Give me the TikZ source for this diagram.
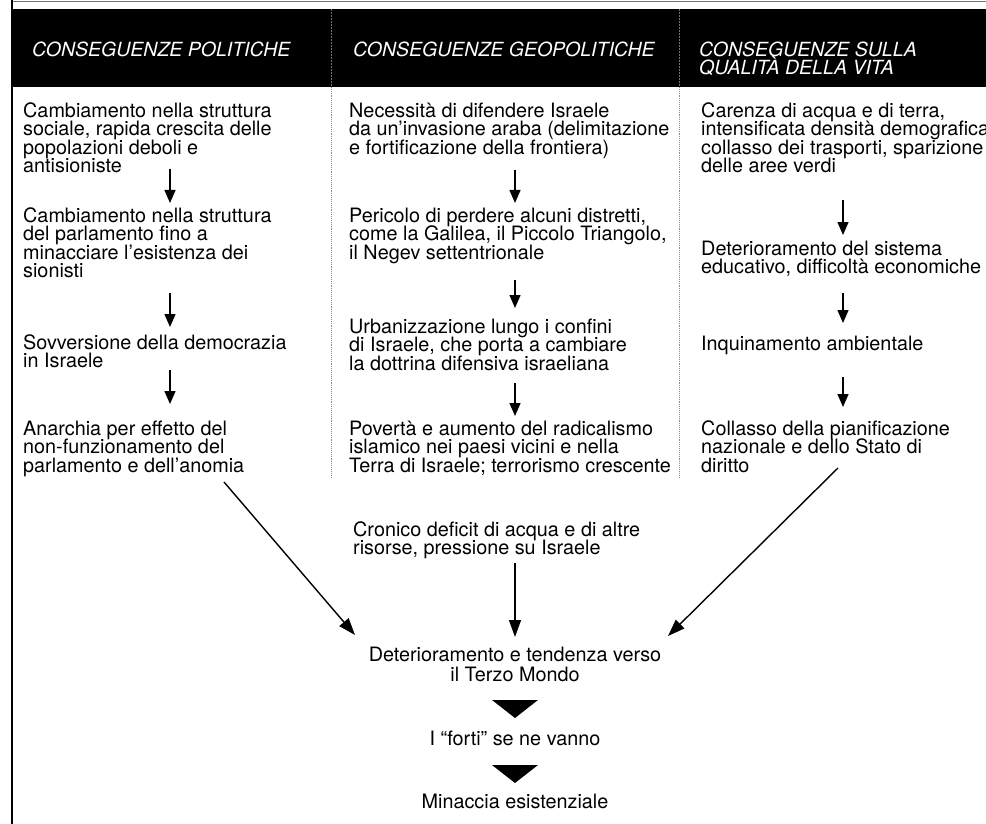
\documentclass[tikz,border=0pt]{standalone}
\usepackage{fontspec}
\usetikzlibrary{arrows.meta}
\newfontfamily\bodyf{TeX Gyre Heros}
\newcommand\bodyfont{\bodyf\fontsize{19.8}{18.5}\selectfont\lineskiplimit=-50pt\relax}
\newcommand\headfont{\bodyf\itshape\fontsize{19.5}{18}\selectfont\lineskiplimit=-50pt\relax}
\newcommand\fst{\rule{0pt}{15.5pt}}
\tikzset{
  txt/.style={inner sep=0pt, anchor=north west, align=left, font=\bodyfont},
  ctxt/.style={inner sep=0pt, anchor=north, align=center, font=\bodyfont},
  hd/.style={inner sep=0pt, anchor=north west, align=left, font=\headfont, text=white},
  arr/.style={line width=1.4pt, -{Triangle[length=13pt,width=11pt]}},
  darr/.style={line width=1.4pt, -{Triangle[length=17pt,width=12pt]}},
  sep/.style={black!45, line width=0.9pt, densely dotted},
  hsep/.style={white!45!black, line width=0.5pt, densely dotted}
}
\begin{document}
\begin{tikzpicture}[x=1pt,y=-1pt]
\useasboundingbox (0,0) rectangle (986,824);
% frame
\draw[black!55, line width=0.8pt] (12,1.2) -- (986,1.2);
\fill[black] (12,9) rectangle (986,87);
\draw[line width=1.6pt] (12,0) -- (12,824);
\draw[hsep] (331,9) -- (331,87);
\draw[hsep] (679,9) -- (679,87);
\draw[sep] (331,87) -- (331,478);
\draw[sep] (679,87) -- (679,478);
% headers
\node[hd] (h1) at (32,40.5) {\fst CONSEGUENZE POLITICHE};
\node[hd] (h2) at (353,40.5) {\fst CONSEGUENZE GEOPOLITICHE};
\node[hd] (h3) at (699,40.5) {\fst CONSEGUENZE SULLA\\QUALITÀ DELLA VITA};
% column 1
\node[txt] (c1a) at (23,101.5) {\fst Cambiamento nella struttura\\sociale, rapida crescita delle\\popolazioni deboli e\\antisioniste};
\node[txt] (c1b) at (23,206.5) {\fst Cambiamento nella struttura\\del parlamento fino a\\minacciare l’esistenza dei\\sionisti};
\node[txt] (c1c) at (23,333.5) {\fst Sovversione della democrazia\\in Israele};
\node[txt] (c1d) at (23,419.5) {\fst Anarchia per effetto del\\non-funzionamento del\\parlamento e dell’anomia};
% column 2
\node[txt] (c2a) at (349,101.5) {\fst Necessità di difendere Israele\\da un’invasione araba (delimitazione\\e fortificazione della frontiera)};
\node[txt] (c2b) at (349,206.5) {\fst Pericolo di perdere alcuni distretti,\\come la Galilea, il Piccolo Triangolo,\\il Negev settentrionale};
\node[txt] (c2c) at (349,317.5) {\fst Urbanizzazione lungo i confini\\di Israele, che porta a cambiare\\la dottrina difensiva israeliana};
\node[txt] (c2d) at (349,419.5) {\fst Povertà e aumento del radicalismo\\islamico nei paesi vicini e nella\\Terra di Israele; terrorismo crescente};
% column 3
\node[txt] (c3a) at (701,101.5) {\fst Carenza di acqua e di terra,\\intensificata densità demografica\\collasso dei trasporti, sparizione\\delle aree verdi};
\node[txt] (c3b) at (701,239.5) {\fst Deterioramento del sistema\\educativo, difficoltà economiche};
\node[txt] (c3c) at (701,334.5) {\fst Inquinamento ambientale};
\node[txt] (c3d) at (701,419.5) {\fst Collasso della pianificazione\\nazionale e dello Stato di\\diritto};
% bottom
\node[txt] (cr) at (353,520.5) {\fst Cronico deficit di acqua e di altre\\risorse, pressione su Israele};
\node[ctxt] (det) at (515,645.5) {\fst Deterioramento e tendenza verso\\[1.5pt]il Terzo Mondo};
\node[ctxt] (forti) at (515,729.5) {\fst I “forti” se ne vanno};
\node[ctxt] (minac) at (515,792.5) {\fst Minaccia esistenziale};
% arrow coordinates
\coordinate (a11) at (170,169); \coordinate (b11) at (170,203);
\coordinate (a12) at (170,293); \coordinate (b12) at (170,327);
\coordinate (a13) at (170,370); \coordinate (b13) at (170,404);
\coordinate (a21) at (515,170); \coordinate (b21) at (515,203);
\coordinate (a22) at (515,280); \coordinate (b22) at (515,308);
\coordinate (a23) at (515,383); \coordinate (b23) at (515,416);
\coordinate (a31) at (843,200); \coordinate (b31) at (843,235);
\coordinate (a32) at (843,293); \coordinate (b32) at (843,323);
\coordinate (a33) at (843,377); \coordinate (b33) at (843,407);
\draw[arr] (a11) -- (b11);
\draw[arr] (a12) -- (b12);
\draw[arr] (a13) -- (b13);
\draw[arr] (a21) -- (b21);
\draw[arr] (a22) -- (b22);
\draw[arr] (a23) -- (b23);
\draw[arr] (a31) -- (b31);
\draw[arr] (a32) -- (b32);
\draw[arr] (a33) -- (b33);
% converging arrows
\coordinate (ls) at (224,482); \coordinate (le) at (355,635);
\coordinate (rs) at (838,468); \coordinate (re) at (668,636);
\coordinate (ms) at (515,563); \coordinate (me) at (515,637);
\draw[darr] (ls) -- (le);
\draw[darr] (rs) -- (re);
\draw[darr] (ms) -- (me);
% triangles
\fill (492,700) -- (538,700) -- (515,718) -- cycle;
\fill (492,765) -- (538,765) -- (515,783) -- cycle;
\end{tikzpicture}
\end{document}
